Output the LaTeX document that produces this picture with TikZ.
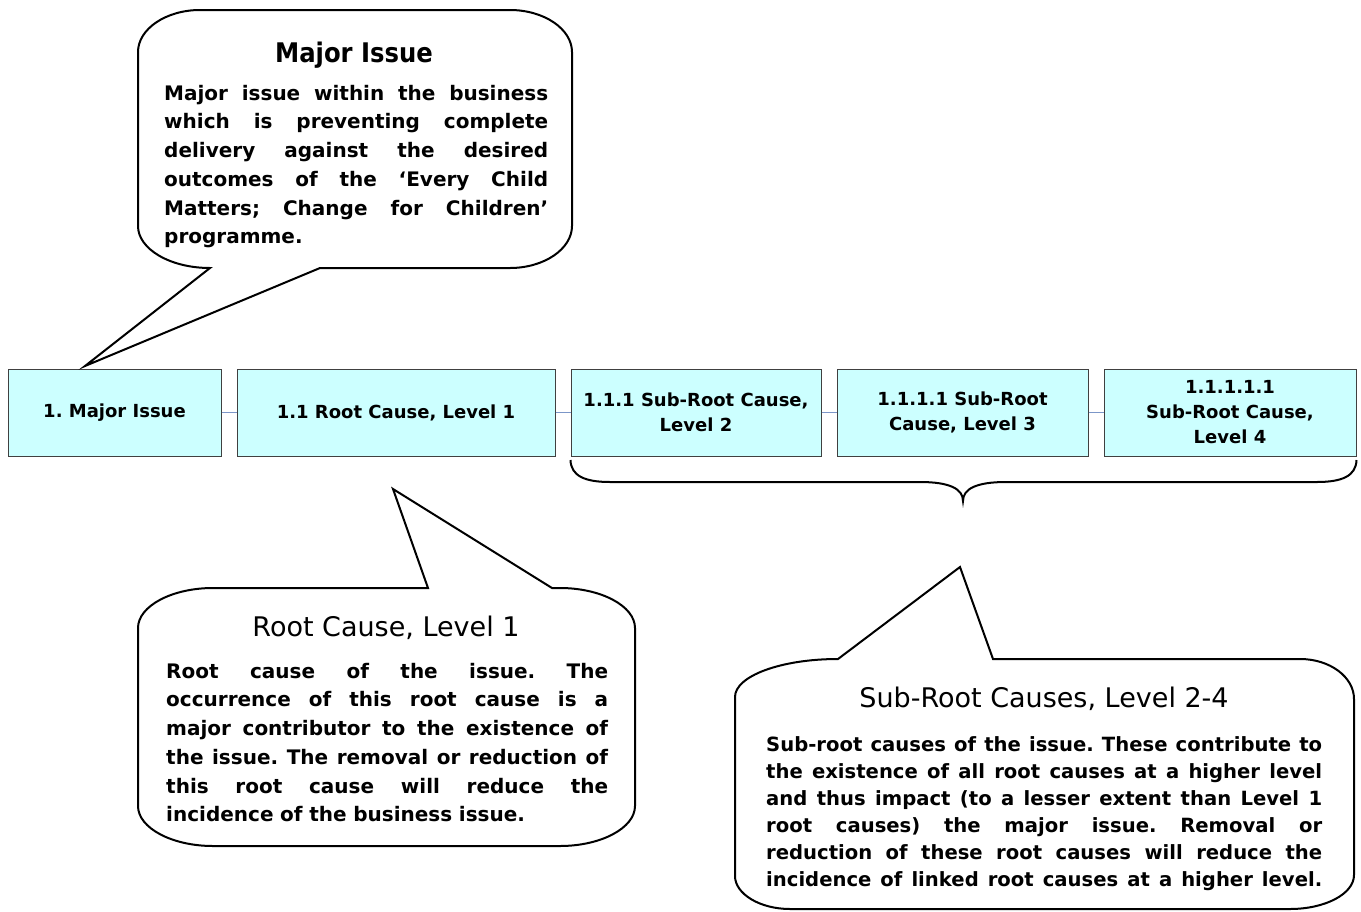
\documentclass[tikz,border=0pt]{standalone}
\usepackage{fontspec}
\newfontfamily\tahoma{DejaVu Sans}
\newfontfamily\tahomanarrow{DejaVu Sans}[FakeStretch=0.9]
\setlength\parindent{0pt}
\frenchspacing
\definecolor{boxfill}{HTML}{CCFFFF}
\definecolor{boxline}{HTML}{404040}
\definecolor{linkblue}{HTML}{7B96C8}
% one fully justified line of a callout text: every space stretches alike
\newcommand\jrow[2]{\leavevmode{\spaceskip=.3em plus 1fil minus .08em
  \xspaceskip=\spaceskip\hbox to #1{#2}}}
\begin{document}
\begin{tikzpicture}[x=1pt,y=-1pt,
  box/.style={draw=boxline, line width=1pt, fill=boxfill, minimum width=#1,
    minimum height=87pt, inner sep=0pt, align=center,
    font=\tahoma\bfseries\fontsize{18}{25}\selectfont},
  link/.style={draw=linkblue, line width=1pt},
  bubble/.style={draw=black, line width=2pt, fill=white, line join=miter},
  bubbletitle/.style={anchor=base, inner sep=0pt, font=\tahoma\fontsize{27}{32}\selectfont},
  bubblebody/.style={anchor=north west, inner sep=0pt, text width=#1, align=left,
    font=\tahoma\bfseries\fontsize{20}{28.7}\selectfont}
]
\useasboundingbox (0,0) rectangle (1361,911);

% the chain of cause boxes
\node[box=213pt] (b1) at (114.5,412.5) {1. Major Issue};
\node[box=318pt] (b2) at (396,412.5) {1.1 Root Cause, Level 1};
\node[box=250pt] (b3) at (696,412.5) {1.1.1 Sub-Root Cause,\\Level 2};
\node[box=251pt] (b4) at (962.5,412.5) {1.1.1.1 Sub-Root\\Cause, Level 3};
\node[box=252pt] (b5) at (1230,412.5) {1.1.1.1.1\\Sub-Root Cause,\\Level 4};
\draw[link] (b1.east) -- (b2.west);
\draw[link] (b2.east) -- (b3.west);
\draw[link] (b3.east) -- (b4.west);
\draw[link] (b4.east) -- (b5.west);

% brace under the sub-root levels
\coordinate (brL) at (b3.south west |- 0,460);
\coordinate (brR) at (b5.south east |- 0,460);
\coordinate (brTip) at (963,501);
\draw[line width=2pt] (brL) .. controls (571,476) and (585,482) .. (610,482) -- (920,482)
  .. controls (950,482) and (963,489) .. (brTip)
  .. controls (963,489) and (976,482) .. (1006,482) -- (1317,482)
  .. controls (1342,482) and (1356,476) .. (brR);

% callout: major issue
\draw[bubble] (138,52) .. controls (138,29) and (166,10) .. (200,10) -- (510,10)
  .. controls (544,10) and (572,29) .. (572,52) -- (572,226)
  .. controls (572,249) and (544,268) .. (510,268) -- (320,268) -- (85,366) -- (210,268)
  .. controls (170,268) and (138,249) .. (138,226) -- cycle;
\node[bubbletitle, font=\tahomanarrow\bfseries\fontsize{27}{32}\selectfont] (t1) at (354,62) {Major Issue};
\node[bubblebody=384pt] (d1) at (164,84) {%
\jrow{384pt}{\rule{0pt}{16pt}Major issue within the business}\\
\jrow{384pt}{which is preventing complete}\\
\jrow{384pt}{delivery against the desired}\\
\jrow{384pt}{outcomes of the ‘Every Child}\\
\jrow{384pt}{Matters; Change for Children’}\\
programme.};

% callout: root cause level 1
\draw[bubble] (138,628) .. controls (138,606) and (172,588) .. (213,588) -- (428,588)
  -- (393,489) -- (552,588) -- (560,588)
  .. controls (601,588) and (635,606) .. (635,628) -- (635,806)
  .. controls (635,828) and (601,846) .. (560,846) -- (213,846)
  .. controls (172,846) and (138,828) .. (138,806) -- cycle;
\node[bubbletitle] (t2) at (386,636) {Root Cause, Level 1};
\node[bubblebody=442pt] (d2) at (166,662) {%
\jrow{442pt}{\rule{0pt}{16pt}Root cause of the issue. The}\\
\jrow{442pt}{occurrence of this root cause is a}\\
\jrow{442pt}{major contributor to the existence of}\\
\jrow{442pt}{the issue. The removal or reduction of}\\
\jrow{442pt}{this root cause will reduce the}\\
incidence of the business issue.};

% callout: sub-root causes
\draw[bubble] (735,697) .. controls (735,676) and (781,659) .. (838,659) -- (960,567)
  -- (993,659) -- (1300,659)
  .. controls (1330,659) and (1354,677) .. (1354,699) -- (1354,875)
  .. controls (1354,894) and (1325,909) .. (1290,909) -- (790,909)
  .. controls (760,909) and (735,894) .. (735,876) -- cycle;
\node[bubbletitle] (t3) at (1044,707) {Sub-Root Causes, Level 2-4};
\node[bubblebody=556pt, font=\tahoma\bfseries\fontsize{19.6}{27}\selectfont] (d3) at (766,735) {%
\jrow{556pt}{\rule{0pt}{16pt}Sub-root causes of the issue. These contribute to}\\
\jrow{556pt}{the existence of all root causes at a higher level}\\
\jrow{556pt}{and thus impact (to a lesser extent than Level 1}\\
\jrow{556pt}{root causes) the major issue. Removal or}\\
\jrow{556pt}{reduction of these root causes will reduce the}\\
\jrow{556pt}{incidence of linked root causes at a higher level.}};
\end{tikzpicture}
\end{document}
